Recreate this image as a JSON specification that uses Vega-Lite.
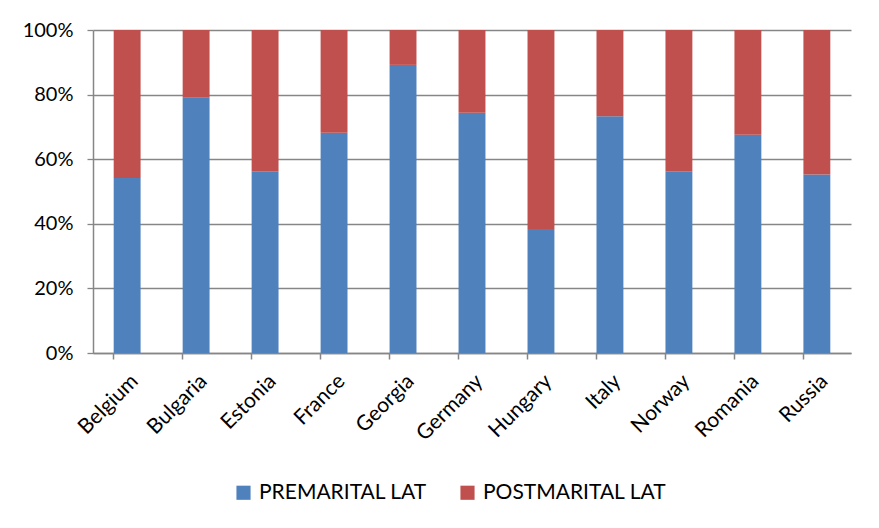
{
  "$schema": "https://vega.github.io/schema/vega-lite/v6.json",
  "autosize": "none",
  "width": 758,
  "height": 323,
  "padding": {"left": 93, "top": 30, "right": 28, "bottom": 175},
  "background": "#ffffff",
  "config": {
    "view": {"stroke": null},
    "font": "Lato",
    "axis": {"labelFont": "Lato", "labelColor": "#000000", "domainColor": "#868686", "tickColor": "#868686", "gridColor": "#868686"}
  },
  "data": {
    "values": [
      {"country": "Belgium", "series": "PREMARITAL LAT", "share": 54.2},
      {"country": "Belgium", "series": "POSTMARITAL LAT", "share": 45.8},
      {"country": "Bulgaria", "series": "PREMARITAL LAT", "share": 79.0},
      {"country": "Bulgaria", "series": "POSTMARITAL LAT", "share": 21.0},
      {"country": "Estonia", "series": "PREMARITAL LAT", "share": 56.3},
      {"country": "Estonia", "series": "POSTMARITAL LAT", "share": 43.7},
      {"country": "France", "series": "PREMARITAL LAT", "share": 68.2},
      {"country": "France", "series": "POSTMARITAL LAT", "share": 31.8},
      {"country": "Georgia", "series": "PREMARITAL LAT", "share": 89.2},
      {"country": "Georgia", "series": "POSTMARITAL LAT", "share": 10.8},
      {"country": "Germany", "series": "PREMARITAL LAT", "share": 74.4},
      {"country": "Germany", "series": "POSTMARITAL LAT", "share": 25.6},
      {"country": "Hungary", "series": "PREMARITAL LAT", "share": 38.4},
      {"country": "Hungary", "series": "POSTMARITAL LAT", "share": 61.6},
      {"country": "Italy", "series": "PREMARITAL LAT", "share": 73.3},
      {"country": "Italy", "series": "POSTMARITAL LAT", "share": 26.7},
      {"country": "Norway", "series": "PREMARITAL LAT", "share": 56.3},
      {"country": "Norway", "series": "POSTMARITAL LAT", "share": 43.7},
      {"country": "Romania", "series": "PREMARITAL LAT", "share": 67.6},
      {"country": "Romania", "series": "POSTMARITAL LAT", "share": 32.4},
      {"country": "Russia", "series": "PREMARITAL LAT", "share": 55.3},
      {"country": "Russia", "series": "POSTMARITAL LAT", "share": 44.7}
    ]
  },
  "mark": {"type": "bar"},
  "encoding": {
    "x": {
      "field": "country", "type": "nominal", "sort": null,
      "scale": {"paddingInner": 0.61, "paddingOuter": 0.3},
      "axis": {"title": null, "labelAngle": -45, "labelFontSize": 21, "labelPadding": 11, "bandPosition": 0, "tickSize": 6, "tickWidth": 1.5, "domainWidth": 1.5, "grid": false}
    },
    "y": {
      "field": "share", "type": "quantitative", "stack": "normalize",
      "scale": {"domain": [0, 1]},
      "axis": {"title": null, "format": "%", "values": [0, 0.2, 0.4, 0.6, 0.8, 1], "labelFontSize": 20, "tickSize": 6, "labelPadding": 14, "gridWidth": 1.3, "tickWidth": 1.3, "domainWidth": 1.5}
    },
    "color": {
      "field": "series", "type": "nominal",
      "scale": {"domain": ["PREMARITAL LAT", "POSTMARITAL LAT"], "range": ["#4F81BD", "#C0504D"]},
      "legend": {"title": null, "orient": "none", "legendX": 140, "legendY": 452, "direction": "horizontal", "symbolType": "square", "symbolSize": 200, "symbolStrokeWidth": 0, "labelFontSize": 21, "labelFont": "Lato", "labelColor": "#000000", "labelOffset": 5, "columnPadding": 30, "labelLimit": 300}
    },
    "order": {"field": "series", "sort": "descending"}
  }
}
